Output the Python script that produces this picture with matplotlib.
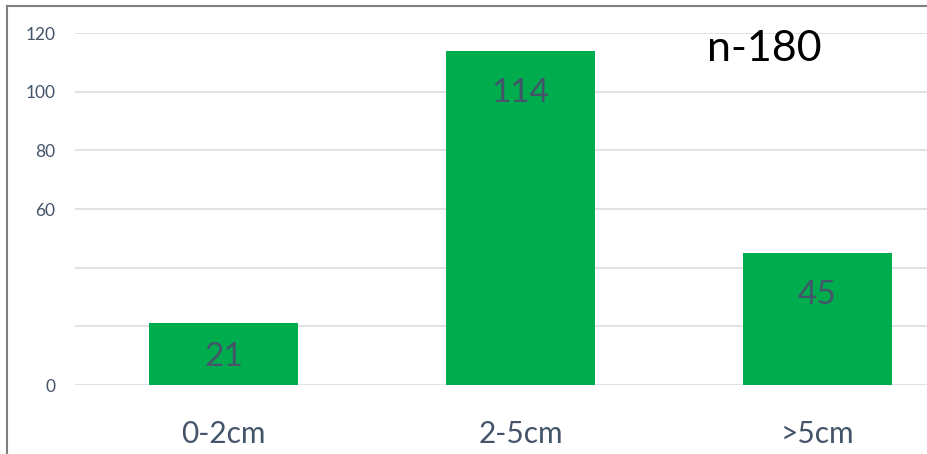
import matplotlib.pyplot as plt

plt.rcParams['font.family'] = ['Lato', 'DejaVu Sans']

# Data
categories = ["0-2cm", "2-5cm", ">5cm"]
counts = [21, 114, 45]
ytick_values = [0, 20, 40, 60, 80, 100, 120]
ytick_labels = ["0", "", "", "60", "80", "100", "120"]
note = "n-180"

text_col = "#44546A"
bar_col = "#00AD4E"

fig = plt.figure(figsize=(9.28, 4.54), dpi=100)
ax = fig.add_axes([75 / 928, 69 / 454, 891 / 928, 352 / 454])

x = range(len(categories))
ax.bar(x, counts, width=0.5, color=bar_col, zorder=2)
ax.set_xlim(-0.5, 2.5)
ax.set_ylim(0, 120)

ax.set_yticks(ytick_values)
ax.set_yticklabels(ytick_labels)
ax.set_xticks(list(x))
ax.set_xticklabels(categories)
ax.tick_params(axis='y', length=0, pad=14, labelsize=12.5, labelcolor=text_col)
ax.tick_params(axis='x', length=0, pad=25, labelsize=21.5, labelcolor=text_col)
ax.grid(axis='y', color="#D9DDE3", linewidth=1.2, zorder=0)
for s in ax.spines.values():
    s.set_visible(False)

# labels sit inside the bar end, but never below the bar's middle
px_per_unit = 352 / 120
for i, v in enumerate(counts):
    y = max(v - 39 / px_per_unit, v / 2) - 3 / px_per_unit
    ax.text(i, y, str(v), ha='center', va='center', fontsize=24, color=text_col, zorder=3)

fig.text(707 / 928, 1 - 49 / 454, note, ha='left', va='center', fontsize=31, color='black')

# outer chart border (left and top visible)
fig.add_artist(plt.Line2D([7 / 928, 7 / 928], [0, 1 - 6 / 454], transform=fig.transFigure,
                          color="#808080", linewidth=1.5))
fig.add_artist(plt.Line2D([7 / 928, 1], [1 - 6 / 454, 1 - 6 / 454], transform=fig.transFigure,
                          color="#808080", linewidth=1.5))

fig.savefig("out.png", dpi=100)
